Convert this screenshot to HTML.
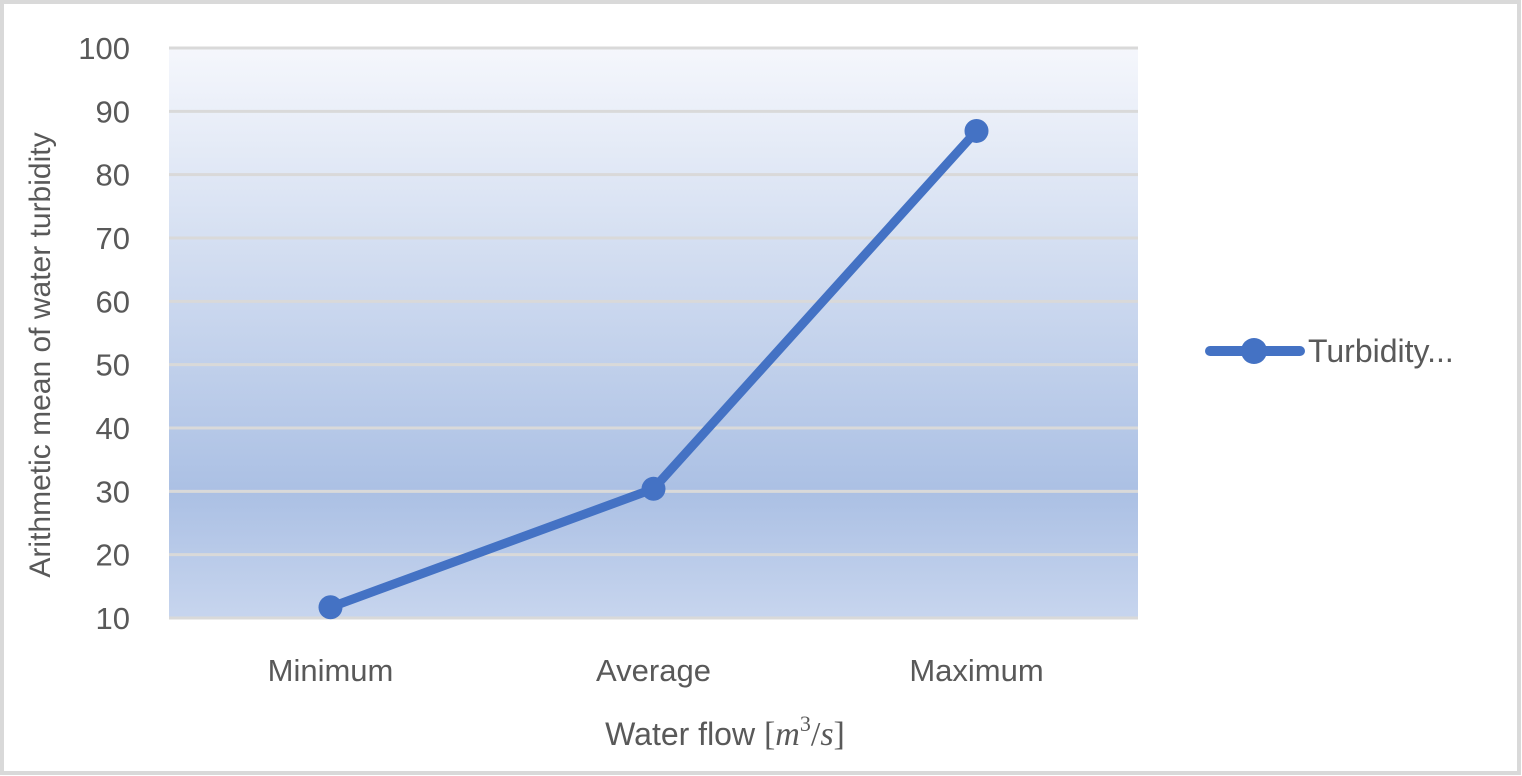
<!DOCTYPE html>
<html><head><meta charset="utf-8"><style>
html,body{margin:0;padding:0;background:#fff}
svg{display:block;font-family:"Liberation Sans",sans-serif}
</style></head><body>
<svg width="1522" height="776" viewBox="0 0 1522 776">
<defs>
<linearGradient id="bg" x1="0" y1="0" x2="0" y2="1">
<stop offset="0" stop-color="#f5f7fc"/>
<stop offset="0.78" stop-color="#abc0e4"/>
<stop offset="1" stop-color="#c7d5ee"/>
</linearGradient>
</defs>
<rect x="2" y="2" width="1517" height="771" fill="#fff" stroke="#d9d9d9" stroke-width="4"/>
<rect x="169" y="48" width="969" height="570" fill="url(#bg)"/>
<g id="grid"></g>
<g id="yticks"></g>
<g id="xticks"></g>
<path id="line" fill="none" stroke="#4472c4" stroke-width="9" stroke-linejoin="round" stroke-linecap="round"/>
<g id="points"></g>
<text x="50" y="355" font-size="30" fill="#595959" text-anchor="middle" transform="rotate(-90 50 355)">Arithmetic mean of water turbidity</text>
<text x="725" y="745" font-size="32" fill="#595959" text-anchor="middle">Water flow  <tspan font-family="Liberation Serif,serif" font-size="34">[<tspan font-style="italic">m</tspan><tspan font-size="22" dy="-14">3</tspan><tspan dy="14">/</tspan><tspan font-style="italic">s</tspan>]</tspan></text>
<g>
<line x1="1210" y1="351" x2="1300" y2="351" stroke="#4472c4" stroke-width="10" stroke-linecap="round"/>
<circle cx="1254" cy="351" r="13" fill="#4472c4"/>
<text x="1308" y="362" font-size="32" fill="#595959">Turbidity...</text>
</g>
<script>
const categories=["Minimum","Average","Maximum"];
const values=[11.7,30.4,86.9];
const yTicks=[10,20,30,40,50,60,70,80,90,100];
const NS="http://www.w3.org/2000/svg";
const x0=169,x1=1138,yTop=48,yBot=618,yMin=10,yMax=100;
function xs(i){return x0+(i+0.5)*(x1-x0)/categories.length;}
function ys(v){return yBot-(v-yMin)/(yMax-yMin)*(yBot-yTop);}
const g=document.getElementById('grid'),yt=document.getElementById('yticks'),xt=document.getElementById('xticks'),pts=document.getElementById('points');
yTicks.forEach(t=>{
 const l=document.createElementNS(NS,'line');
 l.setAttribute('x1',x0);l.setAttribute('x2',x1);l.setAttribute('y1',ys(t));l.setAttribute('y2',ys(t));
 l.setAttribute('stroke','#d9d9d9');l.setAttribute('stroke-width','3');
 
 
 g.appendChild(l);
 const tx=document.createElementNS(NS,'text');
 tx.setAttribute('x',130);tx.setAttribute('y',ys(t)+11);tx.setAttribute('text-anchor','end');
 tx.setAttribute('font-size','31');tx.setAttribute('fill','#595959');tx.textContent=t;
 
 
 yt.appendChild(tx);
});
categories.forEach((c,i)=>{
 const tx=document.createElementNS(NS,'text');
 tx.setAttribute('x',xs(i));tx.setAttribute('y',681);tx.setAttribute('text-anchor','middle');
 tx.setAttribute('font-size','31');tx.setAttribute('fill','#595959');tx.textContent=c;
 
 
 xt.appendChild(tx);
});
document.getElementById('line').setAttribute('d',values.map((v,i)=>(i?'L':'M')+xs(i)+' '+ys(v)).join(' '));
values.forEach((v,i)=>{
 const c=document.createElementNS(NS,'circle');
 c.setAttribute('cx',xs(i));c.setAttribute('cy',ys(v));c.setAttribute('r',12);c.setAttribute('fill','#4472c4');
 
 
 pts.appendChild(c);
});
</script>
</svg>
</body></html>
